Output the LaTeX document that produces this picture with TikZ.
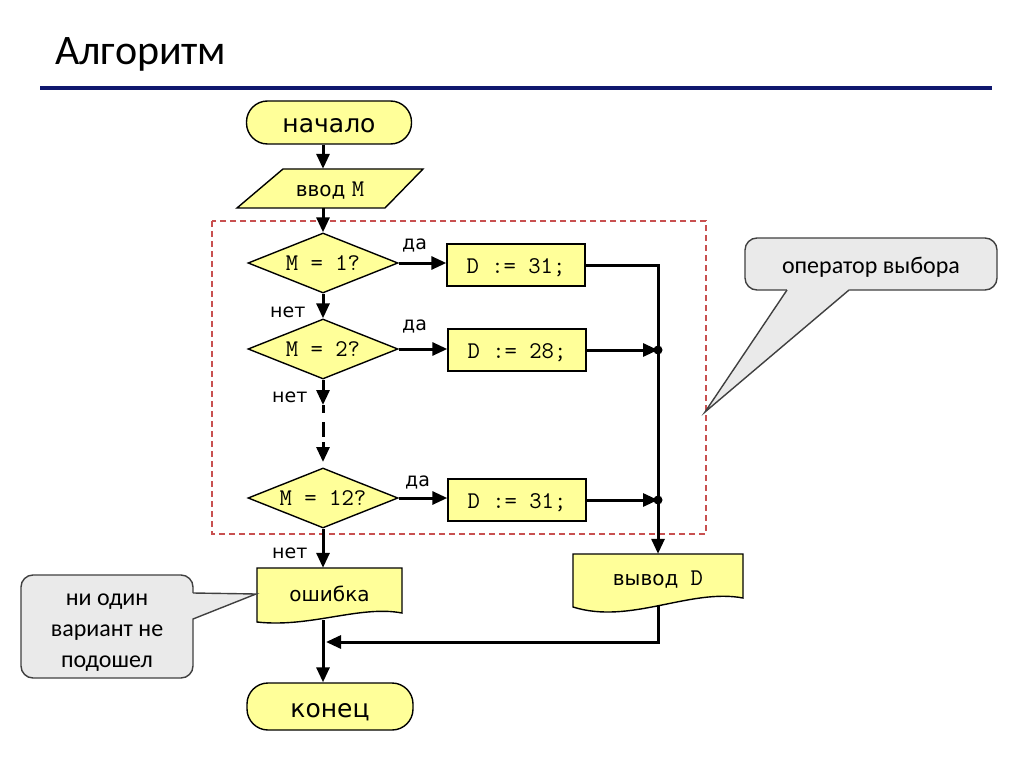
\documentclass[tikz,border=0pt]{standalone}
\usepackage{fontspec}
\newfontfamily\dvfont{DejaVu Sans}
\newfontfamily\cbfont{Carlito}
\usetikzlibrary{arrows.meta,shapes.geometric}
\definecolor{fillY}{RGB}{255,255,153}
\definecolor{noteF}{RGB}{234,234,234}
\definecolor{noteB}{RGB}{64,64,64}
\definecolor{navyL}{RGB}{15,23,110}
\definecolor{redD}{RGB}{200,80,80}
\newcommand\mymono{\ttfamily\fontsize{24}{28}\selectfont}
\newcommand\mysans{\dvfont\fontsize{20}{24}\selectfont}
\begin{document}
\begin{tikzpicture}[x=1pt,y=-1pt,
  term/.style={draw=black, line width=1.4pt, fill=fillY, rounded corners=21pt,
    inner sep=0pt, text height=21pt, text depth=0pt, font=\dvfont\fontsize{25}{30}\selectfont},
  procbox/.style={draw=black, line width=1.4pt, fill=fillY, minimum width=138pt,
    minimum height=42pt, inner sep=0pt, text height=16pt, text depth=0pt, font=\mymono},
  decbox/.style={diamond, draw=black, line width=1.4pt, fill=fillY, aspect=2.5,
    minimum width=150pt, minimum height=60pt, inner sep=0pt, font=\mymono},
  shapeline/.style={draw=black, line width=1.4pt, fill=fillY},
  txt/.style={inner sep=0pt, font=\mysans},
  conn/.style={line width=3pt, draw=black},
  arr/.style={-{Triangle[length=15pt,width=13pt]}},
  lbl/.style={anchor=base west, inner sep=0pt, font=\dvfont\fontsize{19}{22}\selectfont},
  notebox/.style={draw=noteB, fill=noteF, line width=1.4pt, rounded corners=12pt, inner sep=0pt},
  notetext/.style={inner sep=0pt, align=center, font=\cbfont\fontsize{24}{31}\selectfont},
  notewedge/.style={draw=noteB, line width=1.4pt},
]
\useasboundingbox (0,0) rectangle (1024,767);
\fill[white] (0,0) rectangle (1024,767);

% title and rule
\node[anchor=base west, inner sep=0pt, font=\cbfont\fontsize{42}{50}\selectfont] (title) at (55,65) {Алгоритм};
\draw[navyL, line width=4pt] (40,88) -- (992,88);

% dashed frame
\draw[redD, line width=1.4pt, dash pattern=on 6pt off 4pt] (212,221) rectangle (706,534);

% nodes
\node[term, minimum width=165pt, minimum height=43pt] (start) at (329,122.5) {начало};
\draw[shapeline] (237,208) -- (385,208) -- (423,169) -- (283,169) -- cycle;
\node[txt, minimum width=140pt, minimum height=39pt, text height=17pt, text depth=0pt] (inp) at (330,188.5) {ввод {\mymono M}};

\node[decbox] (d1) at (323,263) {M = 1?};
\node[decbox] (d2) at (323,349) {M = 2?};
\node[decbox] (d3) at (323,498) {M = 12?};

\node[procbox] (b1) at (516,265) {D := 31;};
\node[procbox] (b2) at (517,350) {D := 28;};
\node[procbox] (b3) at (517,500) {D := 31;};

\draw[shapeline] (573,554) -- (743,554) -- (743,598) .. controls (690,588) and (630,625) .. (573,607) -- cycle;
\node[txt, minimum width=170pt, minimum height=51pt] (out) at (658,579.5) {вывод{\mymono\ D}};

\draw[shapeline] (257,568) -- (402,568) -- (402,613) .. controls (360,605) and (310,628) .. (257,622) -- cycle;
\node[txt, minimum width=145pt, minimum height=52pt] (err) at (329.5,594) {ошибка};

\node[term, minimum width=166pt, minimum height=47pt] (end) at (330,706.5) {конец};

% labels
\node[lbl] (y1) at (402,249) {да};
\node[lbl] (y2) at (402,330) {да};
\node[lbl] (y3) at (405,486) {да};
\node[lbl] (n1) at (270,317) {нет};
\node[lbl] (n2) at (272,402) {нет};
\node[lbl] (n3) at (272,558) {нет};

% connectors
\draw[conn,arr] (start.south -| d1.north) -- (inp.north -| d1.north);
\draw[conn,arr] (inp.south -| d1.north) -- (d1.north);
\draw[conn,arr] (d1.south) -- (d2.north);
\coordinate (m1) at (323,405);
\coordinate (m2) at (323,462);
\draw[conn,arr] (d2.south) -- (m1);
\draw[conn,arr, dash pattern=on 8pt off 9pt on 15pt off 5pt on 20pt] (m1) -- (m2);
\draw[conn,arr] (d3.south) -- (err.north -| d3.south);

\draw[conn,arr] (d1.east) -- (d1.east -| b1.west);
\draw[conn,arr] (d2.east) -- (d2.east -| b2.west);
\draw[conn,arr] (d3.east) -- (d3.east -| b3.west);

\draw[conn,arr] (b1.east) -| (out.north);
\draw[conn,arr] (b2.east) -- (b2.east -| out.north);
\draw[conn,arr] (b3.east) -- (b3.east -| out.north);
\fill (b2.east -| out.north) circle[radius=4.5pt];
\fill (b3.east -| out.north) circle[radius=4.5pt];

\coordinate (j) at (326,642);
\draw[conn,arr] (out.south) |- (j);
\draw[conn,arr] (err.south -| d3.south) -- (end.north -| d3.south);

% callouts
\node[notebox, minimum width=252pt, minimum height=52pt] (opnote) at (871,264) {};
\node[notetext] (optext) at (871,267) {оператор выбора};
\fill[noteF] (787,287) -- (787,291) -- (705,412) -- (849,291) -- (849,287) -- cycle;
\draw[notewedge] (787,290) -- (705,412) -- (849,290);

\node[notebox, minimum width=172pt, minimum height=103pt] (nonote) at (107,626.5) {};
\node[notetext] (notext) at (107,633) {ни один\\вариант не\\подошел};
\fill[noteF] (191,593) -- (256,594) -- (191,619) -- cycle;
\draw[notewedge] (193,593) -- (256,594) -- (193,619);
\end{tikzpicture}
\end{document}
